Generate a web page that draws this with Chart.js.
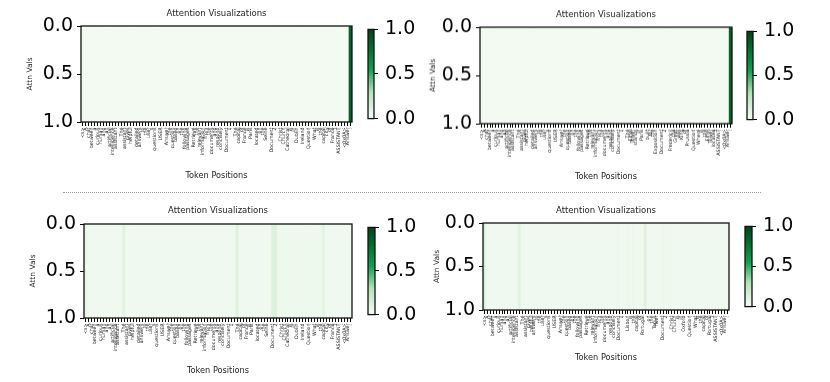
<!DOCTYPE html>
<html><head><meta charset="utf-8">
<script src="https://cdn.jsdelivr.net/npm/chart.js@4.4.0/dist/chart.umd.min.js"></script>
<style>
html,body{margin:0;padding:0;background:#fff;width:830px;height:382px;overflow:hidden;position:relative}
.box{position:absolute}
#sep{position:absolute;left:63px;top:192px;width:698px;height:0;border-top:1px dotted #9a9a9a}
</style></head><body>
<div id="sep"></div>
<script>
// ---------------- data ----------------
const TITLE = 'Attention Visualizations';
const X_TITLE = 'Token Positions';
const Y_TITLE = 'Attn Vals';
const Y_TICKS = [0, 0.5, 1];
const CBAR_TICKS = [0, 0.5, 1];

const TOKENS_A = ["<s>","A","chat","between","a","curious","human","and","an","artificial","intelligence","assistant",".","The","assistant","gives","helpful",",","detailed","answers","to","the","user","'s","questions",".","USER",":","Answer","the","question","based","on","the","following","passages",".","Retrieve","the","relevant","information","from","the","documents","and","respond","concisely",".","Document","1",":","The","capital","of","France","is","Paris",",","located","on","the","Seine",".","Document","2",":","Christ","Church","Cathedral","is","in","Dublin",",","Ireland",".","Question",":","What","is","the","capital","city","of","France","?","ASSISTANT",":","<0x0A>","Answer",":"];
const TOKENS_B = ["<s>","A","chat","between","a","curious","human","and","an","artificial","intelligence","assistant",".","The","assistant","gives","helpful",",","detailed","answers","to","the","user","'s","questions",".","USER",":","Answer","the","question","based","on","the","following","passages",".","Retrieve","the","relevant","information","from","the","documents","and","respond","concisely",".","Document","1",":","The","Eiffel","Tower","stands","in","Paris",",","built","for","the","Exposition",".","Document","2",":","Frederick","the","Great","was","King","of","Prussia",".","Question",":","Where","is","the","Eiffel","Tower","located","?","ASSISTANT",":","<0x0A>","Answer",":"];
const TOKENS_C = ["<s>","A","chat","between","a","curious","human","and","an","artificial","intelligence","assistant",".","The","assistant","gives","helpful","answers","to","the","user","'s","questions",".","USER",":","Answer","the","question","based","on","the","following","passages",".","Retrieve","the","relevant","information","from","the","documents","and","respond","concisely",".","Document","1",":","Lisbon","is","the","capital","of","Portugal",",","on","the","Tagus","river",".","Document","2",":","Christ","Church","is","in","Oxford",".","Question",":","What","is","the","capital","of","Portugal","?","ASSISTANT",":","<0x0A>","Answer",":"];

const VALUES_1 = [
0.03,0.02,0.02,0.02,0.02,0.02,0.02,0.02,0.02,0.02,
0.02,0.02,0.02,0.02,0.02,0.02,0.02,0.02,0.02,0.02,
0.02,0.02,0.02,0.02,0.02,0.02,0.02,0.02,0.02,0.02,
0.02,0.02,0.02,0.02,0.02,0.02,0.02,0.02,0.02,0.02,
0.02,0.02,0.02,0.02,0.02,0.02,0.02,0.02,0.02,0.02,
0.02,0.02,0.02,0.02,0.02,0.02,0.02,0.02,0.02,0.02,
0.02,0.02,0.02,0.02,0.02,0.02,0.02,0.02,0.02,0.02,
0.02,0.02,0.02,0.02,0.02,0.02,0.02,0.02,0.02,0.02,
0.02,0.02,0.02,0.02,0.02,0.02,0.02,0.01,0.01,0.85];
const VALUES_2 = [
0.03,0.02,0.02,0.02,0.02,0.02,0.02,0.02,0.02,0.02,
0.02,0.02,0.02,0.02,0.02,0.02,0.02,0.02,0.02,0.02,
0.02,0.02,0.02,0.02,0.02,0.02,0.02,0.02,0.02,0.02,
0.02,0.02,0.02,0.02,0.02,0.02,0.02,0.02,0.02,0.02,
0.02,0.02,0.02,0.02,0.02,0.02,0.02,0.02,0.02,0.02,
0.02,0.02,0.02,0.02,0.02,0.02,0.02,0.02,0.02,0.02,
0.02,0.02,0.02,0.02,0.02,0.02,0.02,0.02,0.02,0.02,
0.02,0.02,0.02,0.02,0.02,0.02,0.02,0.02,0.02,0.02,
0.02,0.02,0.02,0.02,0.02,0.02,0.01,0.85];
const VALUES_3 = [
0.07,0.03,0.03,0.03,0.03,0.03,0.03,0.03,0.03,0.03,
0.03,0.03,0.03,0.10,0.03,0.03,0.03,0.03,0.03,0.03,
0.03,0.03,0.03,0.03,0.03,0.03,0.03,0.03,0.03,0.03,
0.03,0.03,0.03,0.03,0.03,0.03,0.03,0.03,0.03,0.03,
0.03,0.03,0.03,0.03,0.03,0.03,0.03,0.03,0.03,0.03,
0.03,0.11,0.03,0.03,0.03,0.03,0.03,0.03,0.03,0.03,
0.03,0.03,0.03,0.12,0.12,0.04,0.04,0.04,0.04,0.04,
0.04,0.04,0.04,0.04,0.04,0.04,0.04,0.04,0.04,0.04,
0.09,0.03,0.03,0.03,0.03,0.03,0.03,0.03,0.03,0.03];
const VALUES_4 = [
0.15,0.03,0.03,0.03,0.03,0.03,0.03,0.03,0.03,0.03,
0.03,0.03,0.10,0.03,0.03,0.03,0.03,0.03,0.03,0.03,
0.03,0.03,0.03,0.03,0.03,0.03,0.03,0.03,0.03,0.03,
0.03,0.03,0.03,0.03,0.03,0.03,0.03,0.03,0.03,0.03,
0.03,0.03,0.03,0.03,0.03,0.03,0.05,0.03,0.03,0.05,
0.03,0.05,0.03,0.03,0.03,0.10,0.03,0.03,0.03,0.03,
0.03,0.05,0.03,0.04,0.03,0.03,0.03,0.03,0.03,0.03,
0.03,0.03,0.03,0.03,0.03,0.03,0.03,0.03,0.03,0.03,
0.03,0.03,0.03,0.03,0.03,0.03];

const CMAP_STOPS  = [0, 0.3, 0.55, 0.8, 1];
const CMAP_COLORS = ['#f7fcf5', '#b3e2b8', '#15a050', '#006d2c', '#00441b'];

// ---------------- layout (pixels) ----------------
const FONT = "'DejaVu Sans', sans-serif";
const BIG = 19;
const LAYOUT = [
  {col:0,   row:0,   plot:[81,26,352,122],  titleY:13.3, xlabY:176,   ylabX:30,  cbar:[368,374,26,122]},
  {col:400, row:0,   plot:[480,27,732,123], titleY:14.7, xlabY:175.7, ylabX:433.5, cbar:[747,753,28,123]},
  {col:0,   row:196, plot:[84,224,352,318], titleY:211,  xlabY:371,   ylabX:33,  cbar:[368,375,224,318]},
  {col:400, row:196, plot:[483,223,729,310],titleY:210.7,xlabY:358,   ylabX:437, cbar:[745,752,223,310]}
];

function hex2rgb(h){return [1,3,5].map(i=>parseInt(h.slice(i,i+2),16));}
function cmap(v){
  v = Math.max(0, Math.min(1, v));
  for (let k=1;k<CMAP_STOPS.length;k++){
    if (v <= CMAP_STOPS[k]){
      const t = (v-CMAP_STOPS[k-1])/(CMAP_STOPS[k]-CMAP_STOPS[k-1]);
      const a = hex2rgb(CMAP_COLORS[k-1]), b = hex2rgb(CMAP_COLORS[k]);
      const c = a.map((x,j)=>Math.round(x+(b[j]-x)*t));
      return 'rgb('+c.join(',')+')';
    }
  }
  return CMAP_COLORS[CMAP_COLORS.length-1];
}

const frame = {id:'frame', afterDatasetsDraw(chart){
  const a = chart.chartArea, c = chart.ctx;
  c.save(); c.strokeStyle = '#111'; c.lineWidth = 1.3;
  c.strokeRect(a.left, a.top, a.right-a.left, a.bottom-a.top); c.restore();
}};

function mkCanvas(l,t,w,h){
  const d = document.createElement('div');
  d.className='box'; d.style.left=l+'px'; d.style.top=t+'px'; d.style.width=w+'px'; d.style.height=h+'px';
  const c = document.createElement('canvas'); d.appendChild(c); document.body.appendChild(d); return c;
}

function heatmap(i, tokens, values){
  const L = LAYOUT[i]; const [x0,y0,x1,y1] = L.plot;
  const cl = L.col, ct = L.row, cw = x1 + 6 - cl, ch = L.xlabY + 10 - ct;
  const fT = 8.5, fX = 8.2, fY = 7.5, lh = 1.2;
  const cv = mkCanvas(cl, ct, cw, ch);
  new Chart(cv, {
    type:'bar',
    data:{labels:tokens, datasets:[{
      data: values.map(()=>[Y_TICKS[0], Y_TICKS[Y_TICKS.length-1]]),
      backgroundColor: values.map(cmap), borderWidth:0, barPercentage:1, categoryPercentage:1
    }]},
    options:{
      responsive:true, maintainAspectRatio:false, animation:false, events:[],
      layout:{padding:{left:0, top:0, right:cl+cw-x1, bottom:ct+ch-(L.xlabY+fX*lh/2)}},
      plugins:{legend:{display:false}, tooltip:{enabled:false},
        title:{display:true, text:TITLE, fullSize:false, color:'#222',
          font:{family:FONT, size:fT, weight:'normal', lineHeight:lh},
          padding:{top:L.titleY-ct-fT*lh/2, bottom:y0-L.titleY-fT*lh/2}}},
      scales:{
        x:{type:'category', offset:true,
          grid:{display:true, drawOnChartArea:false, drawTicks:true, tickLength:4, tickWidth:1, tickColor:'#000', offset:false},
          border:{display:false},
          ticks:{autoSkip:false, minRotation:90, maxRotation:90, font:{family:FONT, size:4.8}, color:'#222', padding:1.5},
          title:{display:true, text:X_TITLE, color:'#222', font:{family:FONT, size:fX, lineHeight:lh}, padding:{top:0,bottom:0}},
          afterFit(s){ s.height = L.xlabY + fX*lh/2 - y1; }},
        y:{type:'linear', min:Y_TICKS[0], max:Y_TICKS[Y_TICKS.length-1], reverse:true,
          afterBuildTicks(s){ s.ticks = Y_TICKS.map(v=>({value:v})); },
          ticks:{callback:v=>Number(v).toFixed(1), font:{family:FONT, size:BIG}, color:'#000', padding:4},
          grid:{drawOnChartArea:false, tickLength:4, tickWidth:1, tickColor:'#000'},
          border:{display:false},
          title:{display:true, text:Y_TITLE, color:'#222', font:{family:FONT, size:fY, lineHeight:lh}, padding:{top:L.ylabX-cl-fY*lh/2, bottom:0}},
          afterFit(s){ s.width = x0 - cl; }}
      }
    },
    plugins:[frame]
  });
}

function colorbar(i){
  const L = LAYOUT[i]; const [bx0,bx1,by0,by1] = L.cbar;
  const cl = bx0-2, ct = by0-15, cw = 70, ch = by1-by0+30;
  const cv = mkCanvas(cl, ct, cw, ch);
  new Chart(cv, {
    type:'bar',
    data:{labels:[''], datasets:[{
      data:[[CBAR_TICKS[0], CBAR_TICKS[CBAR_TICKS.length-1]]],
      backgroundColor(ctx){
        const chart = ctx.chart, ys = chart.scales.y;
        if (!ys || !chart.chartArea) return CMAP_COLORS[0];
        const g = chart.ctx.createLinearGradient(0, ys.getPixelForValue(0), 0, ys.getPixelForValue(1));
        CMAP_STOPS.forEach((s,k)=>g.addColorStop(s, CMAP_COLORS[k]));
        return g;
      },
      borderWidth:0, barPercentage:1, categoryPercentage:1
    }]},
    options:{
      responsive:true, maintainAspectRatio:false, animation:false, events:[],
      layout:{padding:{left:2, top:15, bottom:15, right:0}},
      plugins:{legend:{display:false}, tooltip:{enabled:false}},
      scales:{
        x:{display:false, offset:true},
        y:{position:'right', min:CBAR_TICKS[0], max:CBAR_TICKS[CBAR_TICKS.length-1],
          afterBuildTicks(s){ s.ticks = CBAR_TICKS.map(v=>({value:v})); },
          ticks:{callback:v=>Number(v).toFixed(1), font:{family:FONT, size:BIG}, color:'#000', padding:7},
          grid:{drawOnChartArea:false, tickLength:4, tickWidth:1, tickColor:'#000'},
          border:{display:false},
          afterFit(s){ s.width = cw - 2 - (bx1-bx0); }}
      }
    },
    plugins:[frame]
  });
}

heatmap(0, TOKENS_A, VALUES_1);
heatmap(1, TOKENS_B, VALUES_2);
heatmap(2, TOKENS_A, VALUES_3);
heatmap(3, TOKENS_C, VALUES_4);
[0,1,2,3].forEach(colorbar);
</script>
</body></html>
